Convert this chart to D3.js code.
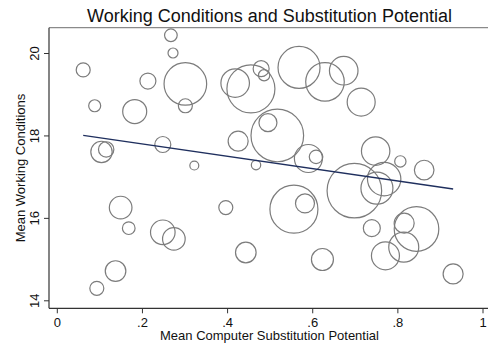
<!DOCTYPE html>
<html>
<head>
<meta charset="utf-8">
<script src="https://cdn.jsdelivr.net/npm/d3@7"></script>
<style>
  html, body { margin: 0; padding: 0; background: #fff; }
  svg { display: block; font-family: "Liberation Sans", Arial, sans-serif; }
</style>
</head>
<body>
<svg id="chart" width="488" height="345"></svg>
<script>
// Occupation-level means: computer substitution potential (x),
// working conditions index (y), and employment weight (bubble area).
const substitution = [
  0.062, 0.268, 0.273, 0.214, 0.302, 0.089, 0.183, 0.302, 0.105, 0.116,
  0.249, 0.323, 0.426, 0.419, 0.456, 0.480, 0.487, 0.569, 0.630, 0.674,
  0.715, 0.518, 0.496, 0.468, 0.591, 0.609, 0.749, 0.807, 0.863, 0.699,
  0.769, 0.752, 0.557, 0.583, 0.740, 0.816, 0.845, 0.815, 0.772, 0.624,
  0.444, 0.931, 0.150, 0.169, 0.249, 0.275, 0.397, 0.138, 0.094
];
const workingConditions = [
  19.59, 20.43, 20.00, 19.32, 19.25, 18.72, 18.58, 18.72, 17.60, 17.66,
  17.78, 17.27, 17.86, 19.27, 19.13, 19.62, 19.46, 19.65, 19.30, 19.57,
  18.81, 18.00, 18.31, 17.28, 17.44, 17.48, 17.62, 17.37, 17.16, 16.66,
  16.94, 16.72, 16.21, 16.35, 15.75, 15.87, 15.73, 15.29, 15.08, 14.99,
  15.16, 14.64, 16.25, 15.75, 15.65, 15.49, 16.25, 14.71, 14.29
];
const employment = [
   49,  40,  25,  64, 454,  36, 144,  49, 114,  59,
   64,  20, 100, 204, 576,  64,  32, 441, 372, 204,
  196, 692,  81,  22, 196,  46, 202,  32,  96, 745,
  279, 256, 576,  90,  72, 100, 497, 225, 196, 121,
  106, 100, 128,  40, 151, 128,  49, 106,  49
];
// Linear fit endpoints (over the observed x range)
const fitX = [0.062, 0.931];
const fitY = [18.00, 16.70];

const xTicks = [0, 0.2, 0.4, 0.6, 0.8, 1];
const yTicks = [14, 16, 18, 20];

const svg = d3.select("#chart");

const x = d3.scaleLinear().domain([0, 1]).range([56.8, 482.5]);
const y = d3.scaleLinear().domain([14, 20]).range([300.3, 53]);
const r = d3.scaleSqrt().domain([0, 100]).range([0, 10]);

const frameLeft = 49, frameRight = 488, frameTop = 27.7, frameBottom = 308.3;

const fmt = v => (v === 0 ? "0" : v === 1 ? "1" : d3.format(".1f")(v).replace(/^0/, ""));

// Title
svg.append("text")
  .attr("x", 269.5).attr("y", 21.7)
  .attr("text-anchor", "middle")
  .attr("font-size", 18)
  .attr("fill", "#111")
  .text("Working Conditions and Substitution Potential");

// Plot frame: top border line
svg.append("line")
  .attr("x1", frameLeft).attr("x2", frameRight)
  .attr("y1", frameTop).attr("y2", frameTop)
  .attr("stroke", "#8a8a8a").attr("stroke-width", 1.2);

// Bubbles
const pts = substitution.map((v, i) => ({ x: v, y: workingConditions[i], w: employment[i] }));
svg.append("g")
  .selectAll("circle")
  .data(pts)
  .join("circle")
  .attr("cx", d => x(d.x))
  .attr("cy", d => y(d.y))
  .attr("r", d => r(d.w))
  .attr("fill", "none")
  .attr("stroke", "#7c7c7c")
  .attr("stroke-width", 1.2);

// Fitted line
svg.append("path")
  .datum(fitX.map((v, i) => [v, fitY[i]]))
  .attr("d", d3.line().x(d => x(d[0])).y(d => y(d[1])))
  .attr("fill", "none")
  .attr("stroke", "#1f2f5e")
  .attr("stroke-width", 1.3);

// X axis
const xAxis = svg.append("g")
  .attr("transform", `translate(0,${frameBottom})`)
  .call(d3.axisBottom(x).tickValues(xTicks).tickFormat(fmt).tickSize(5).tickPadding(4));
xAxis.select(".domain").remove();
xAxis.selectAll(".tick line").attr("stroke", "#333");
xAxis.selectAll(".tick text")
  .attr("font-size", 13).attr("fill", "#111")
  .attr("font-family", "'Liberation Sans', Arial, sans-serif");

// Y axis with rotated tick labels
const yAxis = svg.append("g")
  .attr("transform", `translate(${frameLeft},0)`)
  .call(d3.axisLeft(y).tickValues(yTicks).tickFormat(d3.format("d")).tickSize(5));
yAxis.select(".domain").remove();
yAxis.selectAll(".tick line").attr("stroke", "#333");
yAxis.selectAll(".tick text")
  .attr("font-size", 13).attr("fill", "#111")
  .attr("font-family", "'Liberation Sans', Arial, sans-serif")
  .attr("x", null).attr("dy", null)
  .attr("text-anchor", "middle")
  .attr("transform", "translate(-10,0) rotate(-90)");

// Axis lines
svg.append("line")
  .attr("x1", frameLeft).attr("x2", frameLeft)
  .attr("y1", frameTop).attr("y2", frameBottom)
  .attr("stroke", "#333").attr("stroke-width", 1.2);
svg.append("line")
  .attr("x1", frameLeft).attr("x2", frameRight)
  .attr("y1", frameBottom).attr("y2", frameBottom)
  .attr("stroke", "#333").attr("stroke-width", 1.2);

// Axis titles
svg.append("text")
  .attr("x", 269.5).attr("y", 340)
  .attr("text-anchor", "middle")
  .attr("font-size", 13).attr("fill", "#111")
  .text("Mean Computer Substitution Potential");
svg.append("text")
  .attr("transform", `translate(25,${(frameTop + frameBottom) / 2}) rotate(-90)`)
  .attr("text-anchor", "middle")
  .attr("font-size", 13).attr("fill", "#111")
  .text("Mean Working Conditions");
</script>
</body>
</html>
